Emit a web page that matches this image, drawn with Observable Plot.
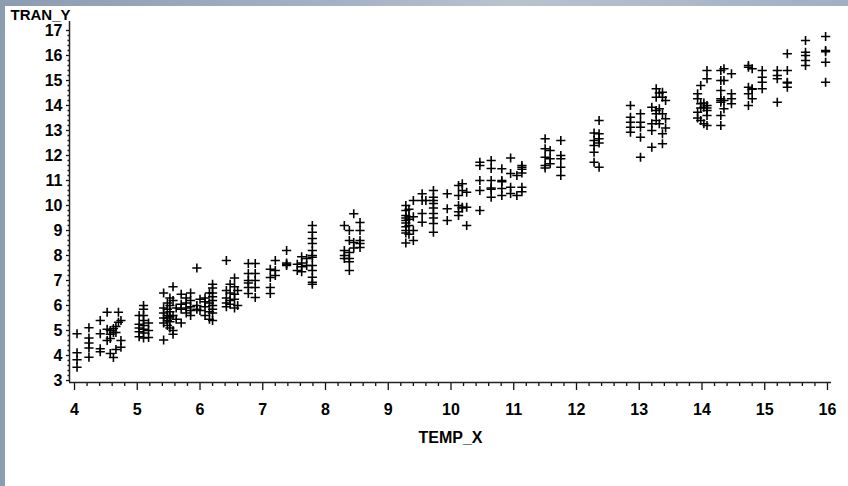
<!DOCTYPE html>
<html>
<head>
<meta charset="utf-8">
<script src="https://cdn.jsdelivr.net/npm/d3@7"></script>
<script src="https://cdn.jsdelivr.net/npm/@observablehq/plot@0.6"></script>
<style>
  html, body { margin: 0; padding: 0; }
  body { width: 848px; height: 486px; overflow: hidden; position: relative;
         background: linear-gradient(90deg, #8c9db2 0%, #a3b2c4 40%, #b8c3cf 60%, #9fb0c3 100%); }
  #panel { position: absolute; left: 5px; top: 6px; width: 843px; height: 480px; background: #fff; }
</style>
</head>
<body>
<div id="panel"></div>
<script>
// TEMP_X column positions and the TRAN_Y values read at each of them
const columnX = [4.04, 4.23, 4.41, 4.52, 4.57, 4.62, 4.66, 4.70, 4.74,
  5.03, 5.10, 5.18, 5.42, 5.48, 5.52, 5.57, 5.62, 5.70, 5.78, 5.85, 5.95, 6.00,
  6.08, 6.15, 6.20, 6.42, 6.48, 6.55, 6.60, 6.77, 6.88, 7.12, 7.20, 7.38, 7.55,
  7.62, 7.70, 7.79, 8.30, 8.38, 8.45, 8.55, 9.28, 9.33, 9.40, 9.54, 9.60, 9.72,
  9.94, 10.12, 10.18, 10.25, 10.46, 10.64, 10.81, 10.95, 11.05, 11.13, 11.50,
  11.58, 11.75, 12.28, 12.36, 12.86, 13.02, 13.20, 13.27, 13.32, 13.37, 13.42,
  13.93, 13.98, 14.03, 14.08, 14.30, 14.35, 14.47, 14.74, 14.80, 14.96, 15.20,
  15.36, 15.65, 15.97];
const columnY = [
  [4.87, 4.11, 3.83, 3.53],
  [5.11, 4.7, 4.5, 4.3, 3.93],
  [5.4, 4.87, 4.27, 4.15],
  [5.73, 5.05, 4.6],
  [5.0, 4.85, 4.68, 4.08],
  [5.08, 4.92, 3.92],
  [5.16, 4.92, 4.24],
  [5.73, 5.33],
  [5.4, 4.6, 4.33],
  [5.6, 5.25, 5.1, 4.95, 4.75],
  [6.0, 5.85, 5.6, 5.4, 5.2, 5.05, 4.9, 4.7],
  [5.3, 5.0, 4.72],
  [6.5, 5.9, 5.7, 5.5, 5.3, 4.62],
  [6.1, 5.85, 5.6, 5.5, 5.4, 5.2],
  [6.3, 6.0, 5.75, 5.55, 5.35, 5.1],
  [6.75, 6.2, 5.6, 5.0, 4.85],
  [5.9, 5.45],
  [6.45, 6.05, 5.85, 5.3],
  [6.3, 6.1, 5.9, 5.7],
  [6.5, 6.2, 5.95, 5.8, 5.6],
  [7.5, 6.0, 5.85],
  [6.25, 5.8],
  [6.3, 6.15, 5.95, 5.6],
  [6.5, 6.1, 5.75, 5.45],
  [6.85, 6.7, 6.5, 6.35, 6.2, 6.0, 5.85, 5.7, 5.4],
  [7.8, 6.6, 6.3, 6.1, 5.95],
  [6.85, 6.5, 6.2, 6.05],
  [7.1, 6.75, 6.45, 6.25, 5.9],
  [6.6, 6.0],
  [7.68, 7.28, 7.0, 6.9, 6.72, 6.48],
  [7.68, 7.28, 7.0, 6.72, 6.32],
  [7.45, 7.12, 6.72, 6.48],
  [7.8, 7.4, 7.2],
  [8.2, 7.7, 7.65, 7.6],
  [7.65, 7.4],
  [7.95, 7.7, 7.55, 7.35],
  [7.88, 7.6],
  [9.2, 8.93, 8.68, 8.48, 8.2, 8.0, 7.93, 7.6, 7.4, 7.13, 6.93, 6.85],
  [9.2, 8.2, 8.0, 7.88],
  [9.0, 8.6, 8.12, 7.88, 7.75, 7.4],
  [9.67, 8.52, 8.3],
  [9.32, 9.0, 8.6, 8.48, 8.32],
  [10.0, 9.8, 9.6, 9.5, 9.4, 9.3, 9.15, 9.0, 8.9, 8.5],
  [9.85, 9.55, 9.45, 9.2, 8.85],
  [10.2, 9.55, 9.0, 8.6],
  [10.47, 10.2, 9.68, 9.33],
  [10.2],
  [10.6, 10.33, 10.2, 10.08, 9.9, 9.68, 9.5, 9.28, 8.93],
  [10.47, 9.87, 9.4],
  [10.8, 10.4, 10.0, 9.75, 9.6],
  [10.87, 10.6, 9.93, 9.9],
  [10.53, 9.93, 9.2],
  [11.73, 11.6, 11.0, 10.6, 9.8],
  [11.8, 11.48, 11.0, 10.7, 10.65, 10.33],
  [11.47, 11.0, 10.95, 10.68, 10.4],
  [11.9, 11.28, 10.73, 10.48],
  [11.2, 10.4],
  [11.6, 11.53, 11.45, 11.3, 10.73, 10.55],
  [12.67, 12.27, 11.93, 11.6, 11.5],
  [12.2, 11.87, 11.67],
  [12.6, 12.0, 11.87, 11.53, 11.2],
  [12.9, 12.6, 12.4, 12.13, 11.73],
  [13.4, 12.87, 12.67, 12.5, 11.53],
  [14.0, 13.53, 13.33, 13.13, 12.93],
  [13.67, 13.33, 13.13, 12.73, 11.93],
  [13.93, 13.27, 13.0, 12.33],
  [14.67, 14.33, 13.8, 13.67, 13.4],
  [14.5, 13.87, 13.27],
  [14.53, 14.33, 13.67, 12.87, 12.47],
  [14.2, 13.47, 13.1],
  [14.47, 14.27, 13.73, 13.5],
  [14.8, 14.07, 13.9, 13.4],
  [14.1, 13.93, 13.27],
  [15.4, 15.07, 14.0, 13.9, 13.8, 13.6, 13.2],
  [15.4, 15.0, 14.6, 14.27, 14.2, 14.13, 13.6, 13.2],
  [15.47, 15.0, 14.2, 13.87],
  [15.27, 14.47, 14.27, 14.07],
  [15.6, 15.53, 14.73, 14.47, 14.0],
  [15.47, 14.67, 14.65, 14.27],
  [15.4, 15.13, 14.93, 14.67],
  [15.4, 15.2, 15.07, 14.13],
  [16.07, 15.4, 14.93, 14.9, 14.73],
  [16.6, 16.13, 16.0, 15.8, 15.6],
  [16.76, 16.2, 16.15, 15.73, 14.93]
];
const xTicks = [4, 5, 6, 7, 8, 9, 10, 11, 12, 13, 14, 15, 16];
const yTicks = [3, 4, 5, 6, 7, 8, 9, 10, 11, 12, 13, 14, 15, 16, 17];
const xDomain = [3.92, 16.064];
const yDomain = [2.92, 17.36];

const points = columnX.flatMap((x, i) => columnY[i].map(y => ({TEMP_X: x, TRAN_Y: y})));
const xMinor = d3.range(20, 81).map(k => k / 5).filter(v => !Number.isInteger(v));
const yMinor = d3.range(30, 171, 2).map(k => k / 10).filter(v => Math.abs(v - Math.round(v)) > 1e-9);

const plusSymbol = {
  draw(context, size) {
    const r = Math.sqrt(size / Math.PI);
    context.moveTo(-r, 0); context.lineTo(r, 0);
    context.moveTo(0, -r); context.lineTo(0, r);
  }
};

const tickFont = {fontSize: 16, fontWeight: "bold", fontFamily: "Liberation Sans, Arial, sans-serif"};

const chart = Plot.plot({
  width: 843, height: 480,
  marginLeft: 64, marginRight: 17, marginTop: 15, marginBottom: 104,
  x: {domain: xDomain},
  y: {domain: yDomain},
  style: {background: "white", color: "black", overflow: "visible"},
  marks: [
    Plot.axisX(xMinor, {tickSize: 4, tickFormat: () => "", label: null, stroke: "#111", strokeWidth: 1.3}),
    Plot.axisX(xTicks, {tickSize: 8, tickPadding: 13, label: null, stroke: "#111", strokeWidth: 1.3, ...tickFont}),
    Plot.axisY(yMinor, {tickSize: 1.5, tickFormat: () => "", label: null, stroke: "#111", strokeWidth: 1.3}),
    Plot.axisY(yTicks, {tickSize: 3, tickPadding: 4, label: null, stroke: "#111", strokeWidth: 1.3, ...tickFont}),
    Plot.ruleX([xDomain[0]], {stroke: "#222", strokeWidth: 1.5}),
    Plot.ruleY([yDomain[0]], {stroke: "#222", strokeWidth: 1.5}),
    Plot.dot(points, {x: "TEMP_X", y: "TRAN_Y", symbol: plusSymbol, r: 4.6, stroke: "black", strokeWidth: 1.6, fill: "none"}),
    Plot.text(["TRAN_Y"], {frameAnchor: "top-left", dx: -59, dy: -6, textAnchor: "start", lineAnchor: "middle",
      fontSize: 15, fontWeight: "bold", fontFamily: "Liberation Sans Narrow, Arial Narrow, sans-serif"}),
    Plot.text(["TEMP_X"], {frameAnchor: "bottom", dy: 55, lineAnchor: "middle",
      fontSize: 16, fontWeight: "bold", fontFamily: "Liberation Sans Narrow, Arial Narrow, sans-serif"})
  ]
});
document.getElementById("panel").appendChild(chart);
</script>
</body>
</html>
